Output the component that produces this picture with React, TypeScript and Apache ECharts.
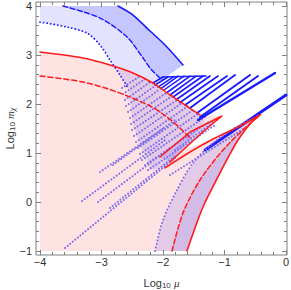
import React, { useEffect, useRef } from "react";
import * as echarts from "echarts";

// ---- axes ----
const X_MIN = -4.065;
const X_MAX = 0.016;
const Y_MIN = -1.082;
const Y_MAX = 4.082;
const X_MAJOR = [-4, -3, -2, -1, 0];
const X_MINOR = [-3.8, -3.6, -3.4, -3.2, -2.8, -2.6, -2.4, -2.2, -1.8, -1.6, -1.4, -1.2, -0.8, -0.6, -0.4, -0.2];
const Y_MAJOR = [-1, 0, 1, 2, 3, 4];
const Y_MINOR = [-0.8, -0.6, -0.4, -0.2, 0.2, 0.4, 0.6, 0.8, 1.2, 1.4, 1.6, 1.8, 2.2, 2.4, 2.6, 2.8, 3.2, 3.4, 3.6, 3.8];

// ---- curves (Log10 mu, Log10 m_chi) ----
const redUpperSolid = [[-4, 3.061], [-3.301, 2.939], [-2.862, 2.796], [-2.488, 2.633], [-2.163, 2.429], [-1.886, 2.184], [-1.642, 1.98], [-1.398, 1.776]];
const redUpperDashed = [[-4, 2.571], [-3.301, 2.449], [-2.748, 2.245], [-2.211, 1.959], [-1.935, 1.735], [-1.724, 1.51], [-1.561, 1.306]];
const blueSolid = [[-2.732, 4], [-2.488, 3.816], [-2.211, 3.49], [-1.967, 3.204], [-1.675, 2.796]];
const blueDashed = [[-3.626, 4], [-3.024, 3.755], [-2.585, 3.367], [-2.325, 2.939], [-2.211, 2.735], [-2.016, 2.49]];
const blueDotted = [[-4, 3.673], [-3.561, 3.571], [-3.236, 3.449], [-3.024, 3.204], [-2.862, 2.898], [-2.699, 2.592], [-2.569, 2.327]];

const redLowerSolid = [[-1.61, -1], [-1.35, -0.102], [-1.073, 0.592], [-0.911, 0.98], [-0.78, 1.265], [-0.585, 1.592], [-0.423, 1.776]];
const redLowerDashed = [[-1.854, -1], [-1.675, -0.224], [-1.398, 0.449], [-1.024, 1.061], [-0.667, 1.51], [-0.423, 1.776]];
const blueLowerDotted = [[-2.13, -1], [-2.0, -0.367], [-1.772, 0.245], [-1.512, 0.796], [-1.187, 1.204], [-0.829, 1.51], [-0.423, 1.776]];

const cuspAUpper = [[-1.967, 0.694], [-1.561, 1.02], [-1.154, 1.306], [-0.748, 1.551], [-0.423, 1.776]];
const cuspB = [[-2.049, 0.918], [-1.561, 1.429], [-1.041, 1.755], [-1.317, 1.469], [-1.675, 1.061], [-1.886, 0.816]];

// ---- regions ----
const pinkRegion = [
  [-4, -1], [-4, 3.061], [-3.301, 2.939], [-2.862, 2.796], [-2.488, 2.633], [-2.163, 2.429], [-1.886, 2.184], [-1.642, 1.98], [-1.398, 1.776],
  [-1.041, 1.755], [-1.317, 1.469], [-1.642, 1.08],
  [-1.154, 1.306], [-0.748, 1.551], [-0.423, 1.776],
  [-0.585, 1.592], [-0.78, 1.265], [-1.073, 0.592], [-1.35, -0.102], [-1.61, -1],
];
const blueUpperRegion = [
  [-4, 4], [-2.732, 4], [-2.488, 3.816], [-2.211, 3.49], [-1.967, 3.204], [-1.675, 2.796], [-2.016, 2.49],
  [-2.163, 2.429], [-1.886, 2.184], [-1.642, 1.98], [-1.398, 1.776], [-1.317, 1.633], [-1.967, 0.694], [-2.211, 0.653], [-2.488, 1.571],
  [-2.569, 2.327], [-2.699, 2.592], [-2.862, 2.898], [-3.024, 3.204], [-3.236, 3.449], [-3.561, 3.571], [-4, 3.673],
];
const blueBandRegion = [
  [-3.626, 4], [-3.024, 3.755], [-2.585, 3.367], [-2.325, 2.939], [-2.211, 2.735], [-2.016, 2.49],
  [-1.675, 2.796], [-1.967, 3.204], [-2.211, 3.49], [-2.488, 3.816], [-2.732, 4],
];
const blueLowerRegion = [
  [-2.13, -1], [-2.0, -0.367], [-1.772, 0.245], [-1.512, 0.796], [-1.187, 1.204], [-0.829, 1.51], [-0.423, 1.776],
  [-0.585, 1.592], [-0.78, 1.265], [-1.073, 0.592], [-1.35, -0.102], [-1.61, -1],
];
const blueLowerBand = [
  [-1.854, -1], [-1.675, -0.224], [-1.398, 0.449], [-1.024, 1.061], [-0.667, 1.51], [-0.423, 1.776],
  [-0.585, 1.592], [-0.78, 1.265], [-1.073, 0.592], [-1.35, -0.102], [-1.61, -1],
];

// ---- blue spikes: [tipMu, tipM, baseMu, baseM, width] ----
const spikes = [
  [-2.0, 2.551, -2.163, 2.429, 1.5],
  [-1.919, 2.551, -2.13, 2.388, 1.5],
  [-1.837, 2.551, -2.081, 2.347, 1.5],
  [-1.756, 2.571, -2.033, 2.316, 1.5],
  [-1.659, 2.571, -1.984, 2.286, 1.5],
  [-1.561, 2.571, -1.935, 2.235, 1.6],
  [-1.463, 2.571, -1.886, 2.184, 1.6],
  [-1.35, 2.571, -1.837, 2.143, 1.6],
  [-1.236, 2.571, -1.78, 2.092, 1.7],
  [-1.106, 2.571, -1.724, 2.031, 1.7],
  [-0.959, 2.571, -1.642, 1.98, 1.8],
  [-0.829, 2.592, -1.561, 1.918, 1.8],
  [-0.585, 2.592, -1.447, 1.816, 2.0],
  [-0.455, 2.571, -1.398, 1.735, 2.0],
  [-0.179, 2.633, -1.431, 1.673, 2.4],
  [0.0, 2.184, -1.317, 1.061, 2.8],
];
const spikeTop = [[-2.0, 2.551], [-1.3, 2.571]];

// ---- purple dotted rows: [mu0, m0, mu1, m1] ----
const dotRows = [
  [-3.593, -0.939, -1.805, 0.898],
  [-2.862, -0.122, -1.805, 0.939],
  [-3.317, 0.02, -1.967, 1.265],
  [-3.057, 0.0, -1.886, 1.102],
  [-3.024, 0.612, -1.967, 1.531],
  [-2.813, 0.755, -1.805, 1.673],
  [-2.667, 2.327, -2.374, 2.571],
  [-2.65, 2.204, -2.293, 2.51],
  [-2.618, 2.082, -2.211, 2.449],
  [-2.602, 1.959, -2.13, 2.367],
  [-2.569, 1.837, -2.049, 2.306],
  [-2.537, 1.714, -1.951, 2.224],
  [-2.52, 1.592, -1.854, 2.163],
  [-2.504, 1.469, -1.772, 2.082],
  [-2.472, 1.347, -1.691, 2.02],
  [-2.439, 1.224, -1.593, 1.959],
  [-2.407, 1.102, -1.512, 1.878],
  [-2.374, 0.98, -1.415, 1.816],
  [-2.341, 0.857, -1.317, 1.735],
  [-2.293, 0.755, -1.236, 1.653],
  [-2.244, 0.653, -1.154, 1.571],
  [-1.886, 0.551, -0.667, 1.51],
  [-1.805, 1.061, -1.154, 1.653],
];

const RED = "#ff1a1a";
const BLUE = "#1a1aff";
const PURPLE = "#7d6cf0";
const FRAME = "#808080";
const TEXT = "#333333";

function polySeries(points: number[][], fill: string, z: number) {
  return {
    type: "custom",
    coordinateSystem: "cartesian2d",
    xAxisIndex: 0,
    yAxisIndex: 0,
    data: points,
    encode: { x: 0, y: 1 },
    silent: true,
    z,
    renderItem: (params: any, api: any) => {
      if (params.dataIndex !== 0) return null;
      return {
        type: "polygon",
        shape: { points: points.map((p) => api.coord(p)) },
        style: { fill, stroke: null },
      };
    },
  };
}

function lineSeries(points: number[][], color: string, width: number, dash: any, z: number, smooth: any = 0.3) {
  return {
    type: "line",
    xAxisIndex: 0,
    yAxisIndex: 0,
    data: points,
    showSymbol: false,
    symbol: "none",
    smooth,
    silent: true,
    z,
    lineStyle: { color, width, type: dash, cap: "round", join: "round" },
  };
}

const fmt = (v: number) => (v < 0 ? "\u2212" + Math.abs(v) : String(v));

const nameRich = {
  n: { fontSize: 11, fontFamily: "Liberation Sans", color: TEXT, lineHeight: 13 },
  s: { fontSize: 8, fontFamily: "Liberation Sans", color: TEXT, lineHeight: 8, verticalAlign: "bottom" },
  i: { fontSize: 11, fontFamily: "Liberation Serif", fontStyle: "italic", color: TEXT, lineHeight: 13 },
  t: { fontSize: 8, fontFamily: "Liberation Serif", fontStyle: "italic", color: TEXT, lineHeight: 8, verticalAlign: "bottom" },
};

function xAxes() {
  const common = { type: "value", min: X_MIN, max: X_MAX, splitLine: { show: false }, axisLine: { show: false, onZero: false } };
  const tick = (vals: number[], len: number) => ({ show: true, inside: true, length: len, customValues: vals, lineStyle: { color: FRAME, width: 1 } });
  return [
    {
      ...common,
      position: "bottom",
      axisTick: tick(X_MAJOR, 5),
      axisLabel: { show: true, customValues: X_MAJOR, formatter: fmt, color: TEXT, fontSize: 11, fontFamily: "Liberation Sans", margin: 1, lineHeight: 12 },
      name: "{n|Log}{s|10}{n| }{i|\u03bc}",
      nameLocation: "middle",
      nameGap: 21,
      nameMoveOverlap: false,
      nameTextStyle: { color: TEXT, rich: nameRich },
    },
    { ...common, position: "bottom", axisTick: tick(X_MINOR, 3), axisLabel: { show: false } },
    { ...common, position: "top", axisTick: tick(X_MAJOR, 5), axisLabel: { show: false } },
    { ...common, position: "top", axisTick: tick(X_MINOR, 3), axisLabel: { show: false } },
  ];
}

function yAxes() {
  const common = { type: "value", min: Y_MIN, max: Y_MAX, splitLine: { show: false }, axisLine: { show: false, onZero: false } };
  const tick = (vals: number[], len: number) => ({ show: true, inside: true, length: len, customValues: vals, lineStyle: { color: FRAME, width: 1 } });
  return [
    {
      ...common,
      position: "left",
      axisTick: tick(Y_MAJOR, 5),
      axisLabel: { show: true, customValues: Y_MAJOR, formatter: fmt, color: TEXT, fontSize: 11, fontFamily: "Liberation Sans", margin: 4 },
      name: "{n|Log}{s|10}{n| }{i|m}{t|\u03c7}",
      nameLocation: "middle",
      nameGap: 20,
      nameRotate: 90,
      nameMoveOverlap: false,
      nameTextStyle: { color: TEXT, rich: nameRich },
    },
    { ...common, position: "left", axisTick: tick(Y_MINOR, 3), axisLabel: { show: false } },
    { ...common, position: "right", axisTick: tick(Y_MAJOR, 5), axisLabel: { show: false } },
    { ...common, position: "right", axisTick: tick(Y_MINOR, 3), axisLabel: { show: false } },
  ];
}

export default function App() {
  const ref = useRef<HTMLDivElement>(null);
  useEffect(() => {
    if (!ref.current) return;
    const chart = echarts.init(ref.current, null, { renderer: "svg" });
    const series: any[] = [];
    // fills
    series.push(polySeries(pinkRegion, "rgba(255,0,0,0.11)", 1));
    series.push(polySeries(blueUpperRegion, "rgba(0,0,255,0.11)", 2));
    series.push(polySeries(blueBandRegion, "rgba(0,0,255,0.12)", 3));
    series.push(polySeries(blueLowerRegion, "rgba(0,0,255,0.11)", 2));
    series.push(polySeries(blueLowerBand, "rgba(0,0,255,0.07)", 3));
    series.push(polySeries(cuspB, "rgba(0,0,255,0.11)", 3));
    // dotted rows
    dotRows.forEach((r) => series.push(lineSeries([[r[0], r[1]], [r[2], r[3]]], PURPLE, 2, [0.1, 3.2], 4, false)));
    // spikes
    spikes.forEach((s) => series.push(lineSeries([[s[0], s[1]], [s[2], s[3]]], BLUE, s[4], "solid", 5, false)));
    series.push(lineSeries(spikeTop, BLUE, 1.5, "solid", 5, false));
    // curves
    series.push(lineSeries(blueDotted, BLUE, 1.8, [0.1, 3.5], 6));
    series.push(lineSeries(blueDashed, BLUE, 1.4, [5, 2.5], 6));
    series.push(lineSeries(blueSolid, BLUE, 1.6, "solid", 6));
    series.push(lineSeries(blueLowerDotted, PURPLE, 2, [0.1, 3.5], 6));
    series.push(lineSeries(redUpperSolid, RED, 1.5, "solid", 7));
    series.push(lineSeries(redUpperDashed, RED, 1.5, [5, 3], 7));
    series.push(lineSeries(redLowerSolid, RED, 1.6, "solid", 7));
    series.push(lineSeries(redLowerDashed, RED, 1.5, [5, 2.5], 7));
    series.push(lineSeries(cuspAUpper, RED, 1.5, "solid", 7));
    series.push(lineSeries(cuspB, RED, 1.5, "solid", 7, false));

    chart.setOption({
      animation: false,
      backgroundColor: "#ffffff",
      grid: {
        left: 36, top: 2, width: 251, height: 253,
        outerBoundsMode: "none", containLabel: false,
        show: true, borderColor: FRAME, borderWidth: 1, backgroundColor: "transparent",
      },
      xAxis: xAxes(),
      yAxis: yAxes(),
      series,
    });
    return () => chart.dispose();
  }, []);
  return <div ref={ref} style={{ position: "fixed", left: 0, top: 0, width: 291, height: 290, background: "#fff" }} />;
}
